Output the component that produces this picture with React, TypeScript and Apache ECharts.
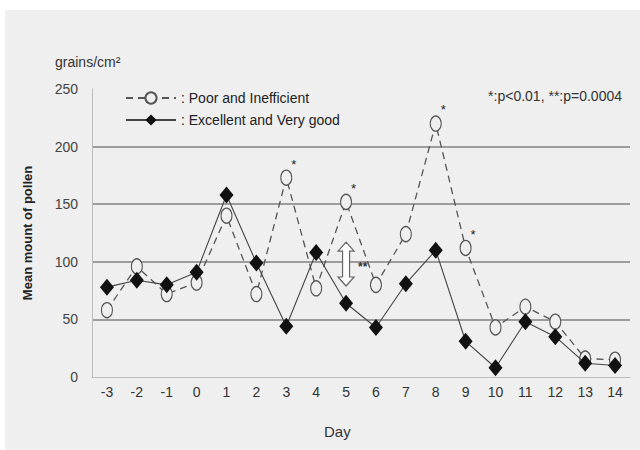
import React, { useEffect, useRef } from "react";
import * as echarts from "echarts";

const days = ["-3", "-2", "-1", "0", "1", "2", "3", "4", "5", "6", "7", "8", "9", "10", "11", "12", "13", "14"];
const poor = [58, 96, 72, 82, 140, 72, 173, 77, 152, 80, 124, 220, 112, 43, 61, 48, 16, 15];
const excellent = [78, 84, 80, 91, 158, 99, 44, 108, 64, 43, 81, 110, 31, 8, 48, 35, 12, 10];
const poorSig = ["", "", "", "", "", "", "*", "", "*", "", "", "*", "*", "", "", "", "", ""];
const arrowRange = [[8, 79, 117]];
const yTicks = [0, 50, 100, 150, 200, 250];

export default function App() {
  const ref = useRef<HTMLDivElement>(null);
  useEffect(() => {
    const chart = echarts.init(ref.current!, null, { renderer: "svg" });
    const font = "'Liberation Sans', Arial, sans-serif";
    chart.setOption({
      animation: false,
      backgroundColor: "#ffffff",
      textStyle: { fontFamily: font },
      graphic: [
        { type: "rect", left: 5, top: 10, shape: { width: 635, height: 440 }, style: { fill: "#efefef" }, z: -10 },
        { type: "text", left: 55, top: 55, style: { text: "grains/cm²", fill: "#333", font: "14px " + font } },
        { type: "text", right: 18, top: 89, style: { text: "*:p<0.01, **:p=0.0004", fill: "#333", font: "14px " + font } },
        { type: "text", left: 324, top: 424, style: { text: "Day", fill: "#333", font: "15px " + font } },
      ],
      legend: {
        orient: "vertical",
        left: 120,
        top: 86,
        itemWidth: 50,
        itemHeight: 14,
        itemGap: 8,
        formatter: (n: string) => ": " + n,
        textStyle: { color: "#222", fontSize: 14, fontFamily: font },
        data: ["Poor and Inefficient", "Excellent and Very good"],
      },
      grid: { left: 92, top: 89, width: 538, height: 288 },
      xAxis: {
        type: "category",
        data: days,
        boundaryGap: true,
        axisLine: { lineStyle: { color: "#bbb", width: 1 } },
        axisTick: { show: false },
        axisLabel: { color: "#333", fontSize: 14, margin: 8, fontFamily: font },
      },
      yAxis: {
        type: "value",
        min: yTicks[0],
        max: yTicks[yTicks.length - 1],
        interval: 50,
        name: "Mean mount of pollen",
        nameLocation: "middle",
        nameGap: 58,
        nameTextStyle: { color: "#222", fontSize: 13, fontWeight: "bold", fontFamily: font },
        axisLine: { show: true, lineStyle: { color: "#bbb", width: 1 } },
        axisTick: { show: false },
        axisLabel: { color: "#444", fontSize: 14, margin: 14, fontFamily: font },
        splitLine: {
          lineStyle: {
            color: ["rgba(0,0,0,0)", "#808080", "#808080", "#808080", "#808080", "rgba(0,0,0,0)"],
            width: 1.6,
          },
        },
      },
      series: [
        {
          name: "Poor and Inefficient",
          type: "line",
          data: poor.map((v, i) => ({
            value: v,
            label: poorSig[i]
              ? { show: true, formatter: poorSig[i], position: [11, -12], color: "#222", fontSize: 13 }
              : { show: false },
          })),
          symbol: "circle",
          symbolSize: [11, 15],
          itemStyle: { color: "#efefef", borderColor: "#555", borderWidth: 1.2 },
          lineStyle: { color: "#555", width: 1.3, type: [7, 5] },
          z: 3,
        },
        {
          name: "Excellent and Very good",
          type: "line",
          data: excellent,
          symbol: "diamond",
          symbolSize: [14, 17],
          itemStyle: { color: "#111" },
          lineStyle: { color: "#444", width: 1.1 },
          z: 4,
        },
        {
          type: "custom",
          data: arrowRange,
          silent: true,
          z: 5,
          renderItem: (params: any, api: any) => {
            const top = api.coord([api.value(0), api.value(2)]);
            const bot = api.coord([api.value(0), api.value(1)]);
            const x = top[0];
            const hw = 8, sw = 3.5, hh = 9;
            const pts = [
              [x, top[1]],
              [x + hw, top[1] + hh],
              [x + sw, top[1] + hh],
              [x + sw, bot[1] - hh],
              [x + hw, bot[1] - hh],
              [x, bot[1]],
              [x - hw, bot[1] - hh],
              [x - sw, bot[1] - hh],
              [x - sw, top[1] + hh],
              [x - hw, top[1] + hh],
            ];
            return {
              type: "group",
              children: [
                { type: "polygon", shape: { points: pts }, style: { fill: "#ffffff", stroke: "#666", lineWidth: 1.2 } },
                {
                  type: "text",
                  x: x + 12,
                  y: (top[1] + bot[1]) / 2 - 3,
                  style: { text: "**", fill: "#333", font: "bold 12px " + font },
                },
              ],
            };
          },
        },
      ],
    });
    return () => chart.dispose();
  }, []);
  return <div ref={ref} style={{ position: "fixed", left: 0, top: 0, width: 640, height: 450 }} />;
}
